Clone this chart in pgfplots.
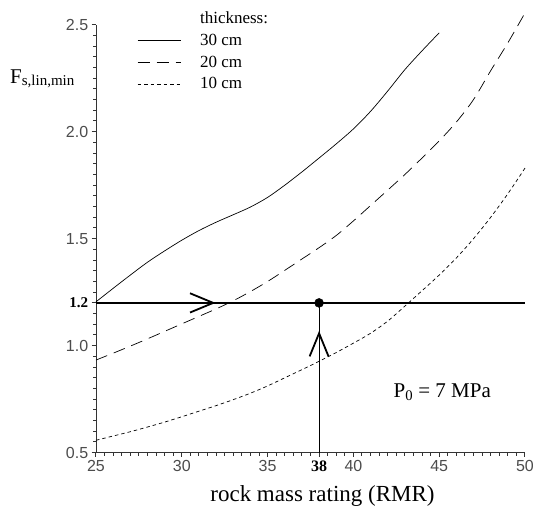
\documentclass[border=0pt]{standalone}
\usepackage{fontspec}
\setmainfont{Liberation Serif}
\newfontfamily\tickfont{Liberation Sans}
\usepackage{pgfplots}
\pgfplotsset{compat=1.18}
\begin{document}
\begin{tikzpicture}
\path[use as bounding box] (-96pt,-55.3pt) rectangle (437pt,452.7pt);
\begin{axis}[
  at={(0,0)}, anchor=south west,
  scale only axis, width=429pt, height=428pt,
  xmin=25, xmax=50, ymin=0.5, ymax=2.5,
  axis x line*=bottom, axis y line*=left,
  clip=false,
  xtick={25,30,...,50}, ytick={0.5,1.0,...,2.5},
  minor x tick num=9, minor y tick num=9,
  tick align=outside,
  axis line style={black!80, line width=0.9pt},
  tick style={black!80, line width=1pt},
  /pgf/number format/assume math mode=true,
  xticklabel style={font=\tickfont\fontsize{16}{16}\selectfont, text=black!70},
  yticklabel style={/pgf/number format/.cd, fixed, fixed zerofill, precision=1, /tikz/.cd, font=\tickfont\fontsize{16}{16}\selectfont, text=black!70},
  extra y ticks={1.2}, extra y tick labels={1.2},
  extra y tick style={yticklabel style={font=\rmfamily\bfseries\fontsize{15}{15}\selectfont, text=black}},
  extra x ticks={38}, extra x tick labels={38},
  extra x tick style={xticklabel style={font=\rmfamily\bfseries\fontsize{16}{16}\selectfont, text=black}},
  legend style={draw=none, fill=none, at={(0.089,1.04)}, anchor=north west, font=\fontsize{17}{17}\selectfont, row sep=5pt, /tikz/every odd column/.append style={column sep=17pt}},
  legend cell align=left,
  legend image code/.code={\draw[#1] (0pt,0pt) -- (43pt,0pt);},
]
\addlegendimage{empty legend}\addlegendentry{thickness:}
\addplot[black, line width=0.7pt, smooth] coordinates {(25,1.205) (26,1.268) (27,1.33) (28,1.39) (29,1.443) (30,1.493) (31,1.538) (32,1.577) (33,1.612) (34,1.648) (35,1.693) (36,1.75) (37,1.812) (38,1.877) (39,1.943) (40,2.013) (41,2.095) (42,2.19) (43,2.29) (44,2.378) (45,2.462)};
\addlegendentry{30 cm}
\addplot[black, line width=0.7pt, smooth, dash pattern=on 12pt off 7pt] coordinates {(25,0.933) (26,0.965) (27,0.998) (28,1.032) (29,1.067) (30,1.102) (31,1.137) (32,1.172) (33,1.21) (34,1.253) (35,1.3) (36,1.352) (37,1.405) (38,1.458) (39,1.515) (40,1.583) (41,1.655) (42,1.727) (43,1.80) (44,1.877) (45,1.957) (46,2.045) (47,2.15) (48,2.285) (49,2.415) (50,2.555)};
\addlegendentry{20 cm}
\addplot[black, line width=0.7pt, smooth, dash pattern=on 3.5pt off 3pt] coordinates {(25,0.558) (26,0.578) (27,0.598) (28,0.62) (29,0.643) (30,0.668) (31,0.694) (32,0.72) (33,0.748) (34,0.778) (35,0.812) (36,0.85) (37,0.888) (38,0.927) (39,0.968) (40,1.012) (41,1.058) (42,1.115) (43,1.185) (44,1.257) (45,1.33) (46,1.41) (47,1.50) (48,1.60) (49,1.71) (50,1.83)};
\addlegendentry{10 cm}
\addplot[black, line width=1.3pt, forget plot] coordinates {(25,1.2) (50,1.2)};
\addplot[black, line width=1.1pt, forget plot] coordinates {(38,0.5) (38,1.2)};
\addplot[black, line width=1.8pt, forget plot] coordinates {(30.48,1.245) (31.83,1.2) (30.48,1.155)};
\addplot[black, line width=1.8pt, forget plot] coordinates {(37.45,0.95) (38,1.058) (38.55,0.95)};
\addplot[black, only marks, mark=*, mark size=4.5pt, forget plot] coordinates {(38,1.2)};
\node[anchor=base west, inner sep=0pt, font=\fontsize{21}{21}\selectfont] at (axis cs:42.33,0.759) {P\textsubscript{0} = 7 MPa};
\node[anchor=base west, inner sep=0pt, xshift=-86pt] at (axis cs:25,2.223) {\fontsize{21}{21}\selectfont F\raisebox{-2pt}{\fontsize{15}{15}\selectfont s,lin,min}};
\node[anchor=base, inner sep=0pt, font=\fontsize{23}{23}\selectfont] at (axis cs:38.2,0.27) {rock mass rating (RMR)};
\end{axis}
\end{tikzpicture}
\end{document}
